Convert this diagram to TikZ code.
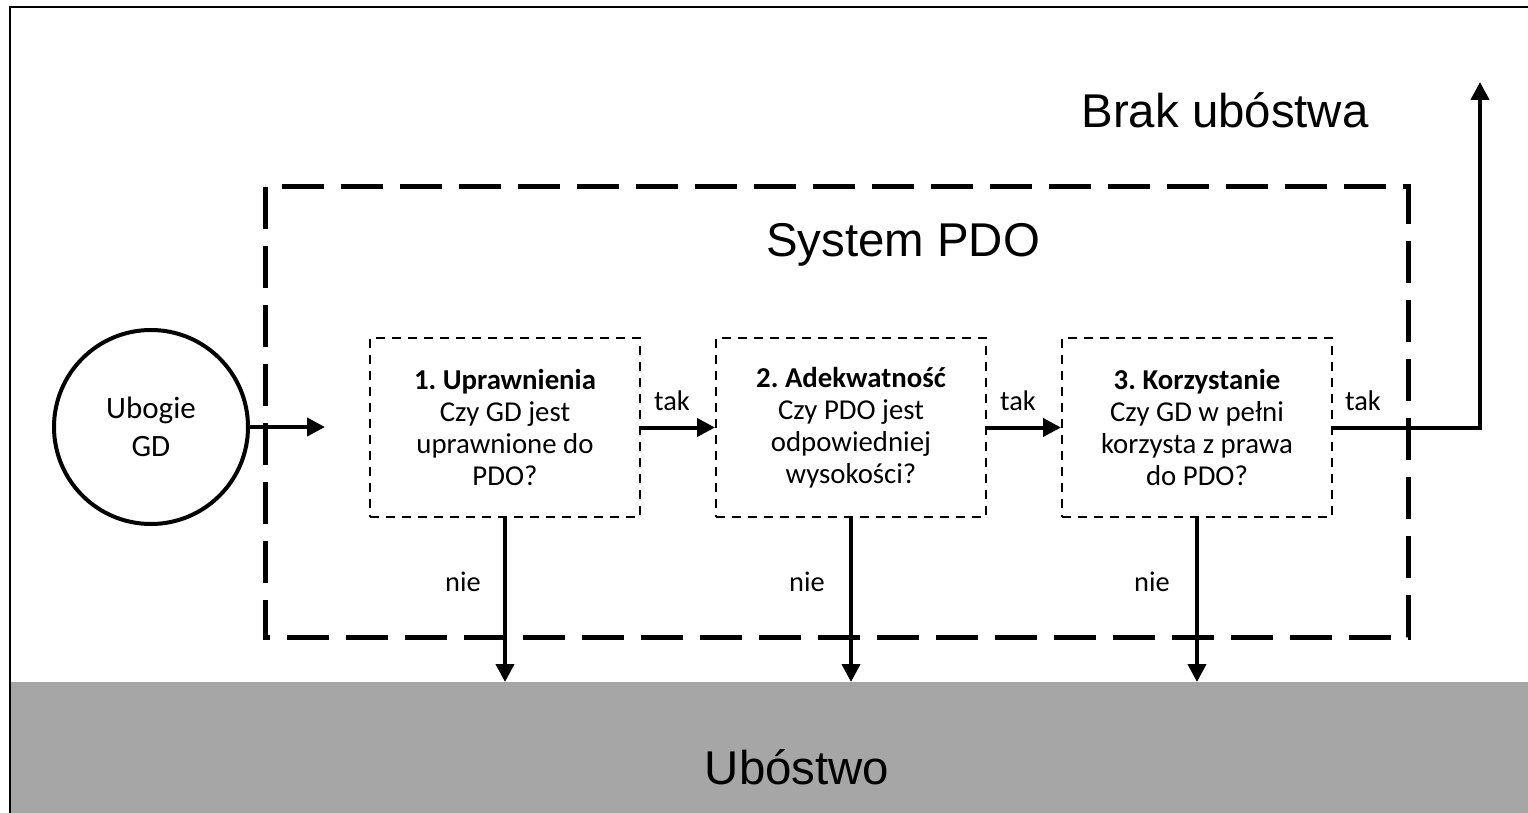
\documentclass[tikz,border=0pt]{standalone}
\usepackage{fontspec}
\setmainfont{Carlito}
\newfontfamily\arialfont{Liberation Sans}
\usetikzlibrary{arrows.meta,positioning}
\definecolor{povgray}{HTML}{A6A6A6}
\frenchspacing
\tikzset{
        flownode/.style = {align=center, inner sep=0pt, text centered},
        box_q/.style = {flownode, rectangle, draw=black, line width=1pt,
            dash pattern=on 4.5pt off 3.5pt, minimum width=135pt,
            minimum height=89.5pt, font=\fontsize{14.4}{16}\selectfont},
        box_gd/.style = {flownode, circle, draw=black, line width=2pt,
            minimum size=97pt, font=\fontsize{15.5}{19}\selectfont},
        box_sys/.style = {draw=black, line width=2.5pt,
            dash pattern=on 21pt off 8.5pt},
        big_t/.style = {flownode, font=\arialfont\fontsize{23.7}{28}\selectfont},
        small_t/.style = {flownode, font=\fontsize{14.2}{16}\selectfont},
        arr_b/.style = {-{Triangle[length=9pt,width=9pt]}, line width=2pt}
    }
\begin{document}
\begin{tikzpicture}[x=0.5pt,y=-0.5pt]
    \useasboundingbox (0,0) rectangle (1528,813);
    % band and frame
    \fill[povgray] (10,682) rectangle (1560,840);
    \node[big_t] (pov) at (797,767) {Ubóstwo};
    \draw[line width=1pt] (10,7) rectangle (1560,840);
    \draw[box_sys] (265,187) rectangle (1408,637);
    \node[big_t] (sys) at (903,245) {System PDO};
    \node[big_t] (nopov) at (1225,110) {Brak ubóstwa};
    % nodes
    \node[box_gd] (gd) at (151,427) {Ubogie\\GD};
    \node[box_q] (q1) at (505,427.5) {\textbf{1. Uprawnienia}\\Czy GD jest\\uprawnione do\\PDO?};
    \node[box_q, right=37pt of q1] (q2) {\textbf{2. Adekwatność}\\Czy PDO jest\\odpowiedniej\\wysokości?};
    \node[box_q, right=37pt of q2] (q3) {\textbf{3. Korzystanie}\\Czy GD w pełni\\korzysta z prawa\\do PDO?};
    \coordinate (in) at (325,427);
    \coordinate (band) at (10,682);
    \coordinate (exit) at (1480,82);
    % connectors
    \draw[arr_b] (gd.east) -- (in);
    \draw[arr_b] (q1) -- (q2);
    \draw[arr_b] (q2) -- (q3);
    \draw[arr_b] (q3.east) -| (exit);
    \foreach \q in {q1,q2,q3}
        \draw[arr_b] (\q.south) -- (\q.south |- band);
    % labels
    \node[small_t] (tak1) at (672,401) {tak};
    \node[small_t] (tak2) at (1018,401) {tak};
    \node[small_t] (tak3) at (1363,401) {tak};
    \node[small_t] (nie1) at (463,582) {nie};
    \node[small_t] (nie2) at (807,582) {nie};
    \node[small_t] (nie3) at (1152,582) {nie};
\end{tikzpicture}
\end{document}
